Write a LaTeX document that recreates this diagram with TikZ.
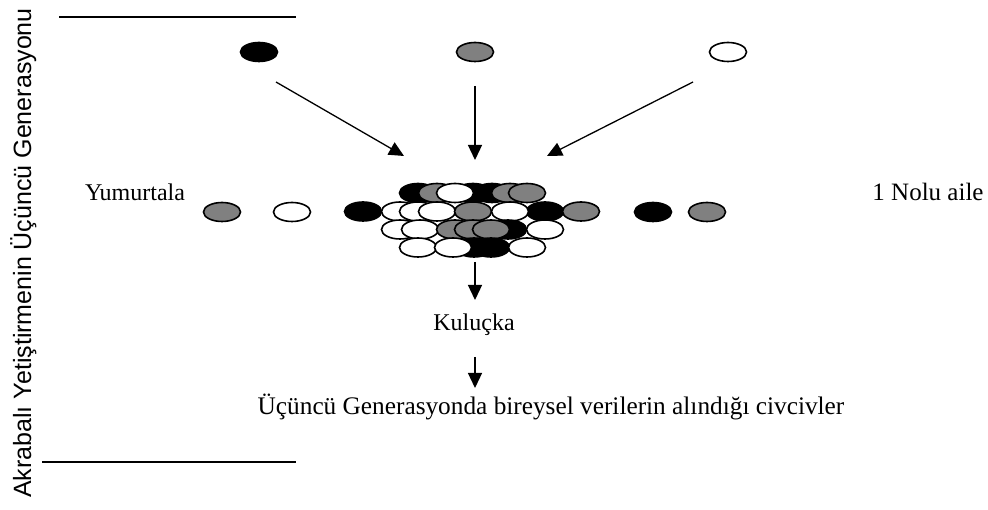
\documentclass[tikz,border=0pt]{standalone}
\usepackage{fontspec}
\setmainfont{Liberation Serif}
\newfontfamily\arialf{Liberation Sans}
\usetikzlibrary{shapes.geometric,arrows.meta}
\tikzset{
  egg/.style={ellipse, minimum width=37pt, minimum height=19pt, inner sep=0pt, line width=1.6pt, draw=black},
  eb/.style={egg, fill=black},
  eg/.style={egg, fill=gray!100},
  ew/.style={egg, fill=white},
  arr/.style={line width=1.3pt, -{Triangle[length=15pt,width=14pt]}},
  lbl/.style={font=\fontsize{24}{28}\selectfont, inner sep=0pt, anchor=base},
  rule/.style={line width=1.4pt}
}
\begin{document}
\begin{tikzpicture}[x=1pt,y=-1pt]
\path[use as bounding box, fill=white] (0,0) rectangle (988,510);
% side label and rules
\node[rotate=90, anchor=base, inner sep=0pt, font=\arialf\fontsize{25}{28}\selectfont] (side) at (31,253) {Akrabalı Yetiştirmenin Üçüncü Generasyonu};
\coordinate (r1a) at (59,17); \coordinate (r1b) at (296,17);
\coordinate (r2a) at (42,462); \coordinate (r2b) at (296,462);
\draw[rule] (r1a) -- (r1b);
\draw[rule] (r2a) -- (r2b);
% parents
\node[eb] (p1) at (259,52) {};
\node[eg] (p2) at (475,52) {};
\node[ew] (p3) at (728,52) {};
\coordinate (a1s) at (276,82); \coordinate (a1e) at (404,156);
\coordinate (a2s) at (475,86); \coordinate (a2e) at (475,160);
\coordinate (a3s) at (693,82); \coordinate (a3e) at (547,156);
\draw[arr] (a1s) -- (a1e);
\draw[arr] (a2s) -- (a2e);
\draw[arr] (a3s) -- (a3e);
% labels
\node[lbl] (yum) at (135,201) {Yumurtala};
\node[lbl, font=\fontsize{25}{29}\selectfont] (aile) at (928,201) {1 Nolu aile};
% outer single eggs
\node[eg] (s1) at (222,212) {};
\node[ew] (s2) at (292,212) {};
\node[eb] (s3) at (653,212) {};
\node[eg] (s4) at (707,212) {};
% cluster row 1
\node[eb] (c11) at (418,193) {};
\node[eg] (c12) at (437,193) {};
\node[eb] (c13) at (473,193) {};
\node[eb] (c14) at (492,193) {};
\node[ew] (c15) at (455,193) {};
\node[eg] (c16) at (510,193) {};
\node[eg] (c17) at (527,193) {};
% row 2
\node[eb] (c21) at (363,211.5) {};
\node[ew] (c22) at (400,211.5) {};
\node[ew] (c23) at (418,211.5) {};
\node[ew] (c24) at (437,211.5) {};
\node[eg] (c25) at (473,211.5) {};
\node[eb] (c26) at (545,211.5) {};
\node[ew] (c27) at (510,211.5) {};
\node[eg] (c28) at (581,211.5) {};
% row 3
\node[eb] (c31) at (508,229.5) {};
\node[ew] (c32) at (400,229.5) {};
\node[ew] (c33) at (420,229.5) {};
\node[eg] (c34) at (455,229.5) {};
\node[eg] (c35) at (473,229.5) {};
\node[eg] (c36) at (491,229.5) {};
\node[ew] (c37) at (545,229.5) {};
% row 4
\node[eb] (c41) at (474,247.5) {};
\node[eb] (c42) at (491,247.5) {};
\node[ew] (c43) at (418,247.5) {};
\node[ew] (c44) at (453,247.5) {};
\node[ew] (c45) at (527,247.5) {};
% lower flow
\coordinate (b1s) at (475,262); \coordinate (b1e) at (475,300);
\draw[arr] (b1s) -- (b1e);
\node[lbl] (kul) at (474,331) {Kuluçka};
\coordinate (b2s) at (475,357); \coordinate (b2e) at (475,388);
\draw[arr] (b2s) -- (b2e);
\node[lbl, font=\fontsize{25.3}{29}\selectfont] (civ) at (551,415) {Üçüncü Generasyonda bireysel verilerin alındığı civcivler};
\end{tikzpicture}
\end{document}
